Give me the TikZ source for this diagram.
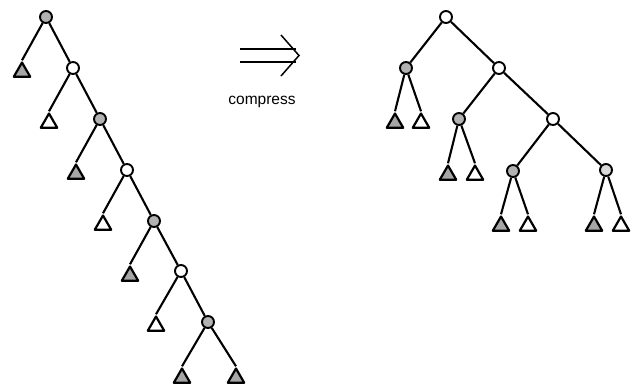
\documentclass[tikz,border=0pt]{standalone}
\usepackage{fontspec}
\setmainfont{Liberation Sans}
\usetikzlibrary{shapes.geometric}
\begin{document}
\begin{tikzpicture}[x=1pt,y=-1pt,
  inode/.style={circle,draw,line width=1.9pt,inner sep=0pt,minimum size=12pt},
  wnode/.style={inode,fill=white},
  gnode/.style={inode,fill=gray!60},
  lnode/.style={inode,fill=gray!30},
  leaf/.style={regular polygon,regular polygon sides=3,draw,line width=2.2pt,
               inner sep=0pt,minimum size=19pt,line join=round},
  wleaf/.style={leaf,fill=white},
  gleaf/.style={leaf,fill=gray!70},
  edge/.style={line width=2.1pt},
  implies/.style={line width=1.5pt}]
\useasboundingbox (0,0) rectangle (639,386);

% ---- unbalanced tree ----
\node[gnode] (a1) at (46,17) {};
\node[wnode] (a2) at (73,68) {};
\node[gnode] (a3) at (100,119) {};
\node[wnode] (a4) at (127,170) {};
\node[gnode] (a5) at (154,221) {};
\node[wnode] (a6) at (181,271) {};
\node[gnode] (a7) at (208,322) {};

\node[gleaf] (b1) at (22,72) {};
\node[wleaf] (b2) at (49,123) {};
\node[gleaf] (b3) at (76,174) {};
\node[wleaf] (b4) at (103,225) {};
\node[gleaf] (b5) at (130,276) {};
\node[wleaf] (b6) at (156,326) {};
\node[gleaf] (b7) at (182,378) {};
\node[gleaf] (b8) at (236,378) {};

\foreach \p/\c in {a1/a2,a2/a3,a3/a4,a4/a5,a5/a6,a6/a7}
  \draw[edge] (\p) -- (\c);
\foreach \p/\c in {a1/b1,a2/b2,a3/b3,a4/b4,a5/b5,a6/b6,a7/b7,a7/b8}
  \draw[edge] (\p) -- (\c.corner 1);

% ---- arrow and label ----
\coordinate (s1) at (240,49);
\coordinate (e1) at (296,49);
\coordinate (s2) at (240,62);
\coordinate (e2) at (296,62);
\coordinate (hu) at (281,35);
\coordinate (ht) at (299,55.5);
\coordinate (hd) at (281,76);
\draw[implies] (s1) -- (e1);
\draw[implies] (s2) -- (e2);
\draw[implies,line join=miter] (hu) -- (ht) -- (hd);
\node[anchor=base,inner sep=0pt] (lbl) at (262,104)
  {\fontsize{15.5}{18}\selectfont compress};

% ---- compressed tree ----
\node[wnode] (r0) at (446,17) {};
\node[gnode] (r1) at (406,68) {};
\node[wnode] (r2) at (499,68) {};
\node[gnode] (r3) at (459,119) {};
\node[wnode] (r4) at (553,119) {};
\node[gnode] (r5) at (513,171) {};
\node[lnode] (r6) at (606,170) {};

\node[gleaf] (q1) at (395,123) {};
\node[wleaf] (q2) at (421,123) {};
\node[gleaf] (q3) at (448,175) {};
\node[wleaf] (q4) at (475,175) {};
\node[gleaf] (q5) at (501,226) {};
\node[wleaf] (q6) at (528,226) {};
\node[gleaf] (q7) at (594,226) {};
\node[wleaf] (q8) at (621,226) {};

\foreach \p/\c in {r0/r1,r0/r2,r2/r3,r2/r4,r4/r5,r4/r6}
  \draw[edge] (\p) -- (\c);
\foreach \p/\c in {r1/q1,r1/q2,r3/q3,r3/q4,r5/q5,r5/q6,r6/q7,r6/q8}
  \draw[edge] (\p) -- (\c.corner 1);
\end{tikzpicture}
\end{document}
